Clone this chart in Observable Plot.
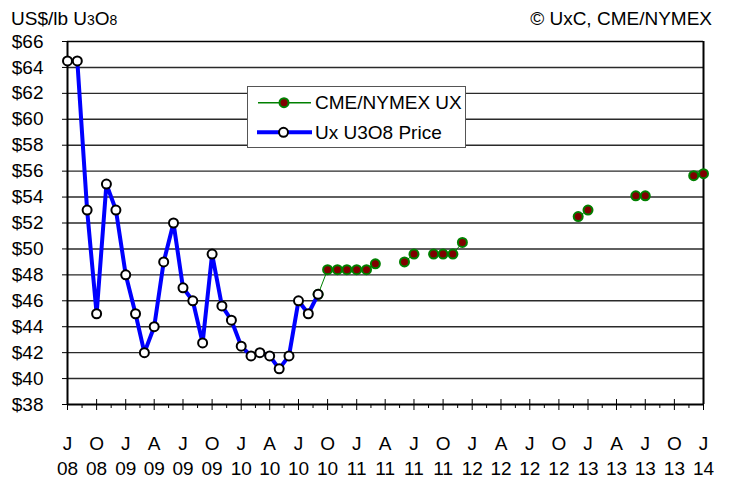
<!DOCTYPE html>
<html>
<head>
<meta charset="utf-8">
<script src="https://cdn.jsdelivr.net/npm/d3@7"></script>
<script src="https://cdn.jsdelivr.net/npm/@observablehq/plot@0.6"></script>
<style>
  body { margin: 0; background: #fff; font-family: "Liberation Sans", Arial, sans-serif; }
  #wrap { position: relative; width: 730px; height: 479px; }
  #title { position: absolute; left: 11px; top: 9px; font-size: 19px; line-height: 1; white-space: nowrap; }
  #title .sm { font-size: 14px; }
  #credit { position: absolute; right: 18px; top: 9px; font-size: 19px; line-height: 1; white-space: nowrap; }
  #legend { position: absolute; left: 247px; top: 86px; width: 219px; height: 62px; }
</style>
</head>
<body>
<div id="wrap">
  <div id="chart"></div>
  <div id="title">US$/lb U<span class="sm">3</span>O<span class="sm">8</span></div>
  <div id="credit">© UxC, CME/NYMEX</div>
  <div id="legend">
    <svg width="219" height="62" style="font-family:'Liberation Sans',Arial,sans-serif;font-size:19px">
      <rect x="0.5" y="0.5" width="218" height="61" fill="#fff" stroke="#555" stroke-width="1"></rect>
      <line x1="11" x2="64" y1="16.7" y2="16.7" stroke="#008000" stroke-width="1.5"></line>
      <circle cx="37" cy="16.7" r="4.5" fill="#800000" stroke="#008000" stroke-width="2"></circle>
      <text x="68" y="23.4">CME/NYMEX UX</text>
      <line x1="10" x2="65" y1="46.3" y2="46.3" stroke="#0000ff" stroke-width="4"></line>
      <circle cx="36.5" cy="46.3" r="4.5" fill="#fff" stroke="#000" stroke-width="2"></circle>
      <text x="68" y="53">Ux U3O8 Price</text>
    </svg>
  </div>
</div>
<script>
// Ux U3O8 spot price (monthly)
const uxMonths = ["2008-07","2008-08","2008-09","2008-10","2008-11","2008-12",
  "2009-01","2009-02","2009-03","2009-04","2009-05","2009-06","2009-07","2009-08","2009-09","2009-10","2009-11","2009-12",
  "2010-01","2010-02","2010-03","2010-04","2010-05","2010-06","2010-07","2010-08","2010-09"];
const uxPrices = [64.5,64.5,53,45,55,53,
  48,45,42,44,49,52,47,46,42.75,49.6,45.6,44.5,
  42.5,41.75,42,41.75,40.75,41.75,46,45,46.5];

// CME/NYMEX UX futures (monthly, null = no contract shown)
const cmeMonths = ["2010-09","2010-10","2010-11","2010-12",
  "2011-01","2011-02","2011-03","2011-04","2011-05","2011-06","2011-07","2011-08","2011-09","2011-10","2011-11","2011-12",
  "2012-01","2012-02","2012-03","2012-04","2012-05","2012-06","2012-07","2012-08","2012-09","2012-10","2012-11","2012-12",
  "2013-01","2013-02","2013-03","2013-04","2013-05","2013-06","2013-07","2013-08","2013-09","2013-10","2013-11","2013-12",
  "2014-01"];
const cmeValues = [46.5,48.4,48.4,48.4,
  48.4,48.4,48.85,null,null,49.0,49.6,null,49.6,49.6,49.6,50.5,
  null,null,null,null,null,null,null,null,null,null,null,52.5,
  53.0,null,null,null,null,54.1,54.1,null,null,null,null,55.65,
  55.8];

// Axis ticks
const yTicks = [38,40,42,44,46,48,50,52,54,56,58,60,62,64,66];
const xTickMonths = ["2008-07","2008-10","2009-01","2009-04","2009-07","2009-10",
  "2010-01","2010-04","2010-07","2010-10","2011-01","2011-04","2011-07","2011-10",
  "2012-01","2012-04","2012-07","2012-10","2013-01","2013-04","2013-07","2013-10","2014-01"];
const monthLetters = ["J","F","M","A","M","J","J","A","S","O","N","D"];

const parse = d3.utcParse("%Y-%m");
const uxData = uxMonths.map((m, i) => ({date: parse(m), value: uxPrices[i]}));
const cmeData = cmeMonths.map((m, i) => ({date: parse(m), value: cmeValues[i]}));
const xTicks = xTickMonths.map(parse);
const minorTicks = d3.pairs(xTicks, (a, b) => new Date((+a + +b) / 2));

const chart = Plot.plot({
  width: 730,
  height: 479,
  marginLeft: 67,
  marginRight: 27,
  marginTop: 41,
  marginBottom: 75,
  style: {fontFamily: "'Liberation Sans', Arial, sans-serif", fontSize: "19px", color: "#000", background: "#fff"},
  x: {type: "utc", domain: [xTicks[0], xTicks[xTicks.length - 1]], label: null},
  y: {domain: [38, 66], label: null},
  marks: [
    Plot.ruleY(yTicks.filter(v => v > 38 && v < 66), {stroke: "#2a2a2a", strokeWidth: 1.4}),
    Plot.ruleY([66], {stroke: "#000", strokeWidth: 1.5}),
    Plot.ruleX([xTicks[xTicks.length - 1]], {stroke: "#000", strokeWidth: 2}),
    Plot.ruleX(xTicks, {stroke: "#000", strokeWidth: 1, insetTop: 358}),
    Plot.ruleX(minorTicks, {stroke: "#000", strokeWidth: 1, insetTop: 363, insetBottom: -4}),
    Plot.axisY({ticks: yTicks, tickFormat: d => "$" + d, tickSize: 5, tickPadding: 19, fontSize: 19, label: null}),
    Plot.axisX({ticks: xTicks, tickFormat: d => monthLetters[d.getUTCMonth()] + "\n" + String(d.getUTCFullYear()).slice(2),
      tickSize: 6, tickPadding: 22, lineHeight: 1.3, fontSize: 19, label: null}),
    Plot.ruleX([xTicks[0]], {stroke: "#000", strokeWidth: 2}),
    Plot.ruleY([38], {stroke: "#000", strokeWidth: 2}),
    Plot.line(cmeData, {x: "date", y: "value", stroke: "#008000", strokeWidth: 1}),
    Plot.dot(cmeData, {x: "date", y: "value", r: 4.5, fill: "#800000", stroke: "#008000", strokeWidth: 2}),
    Plot.line(uxData, {x: "date", y: "value", stroke: "#0000ff", strokeWidth: 4}),
    Plot.dot(uxData, {x: "date", y: "value", r: 4.5, fill: "#fff", stroke: "#000", strokeWidth: 2})
  ]
});
document.getElementById("chart").appendChild(chart);
</script>
</body>
</html>
